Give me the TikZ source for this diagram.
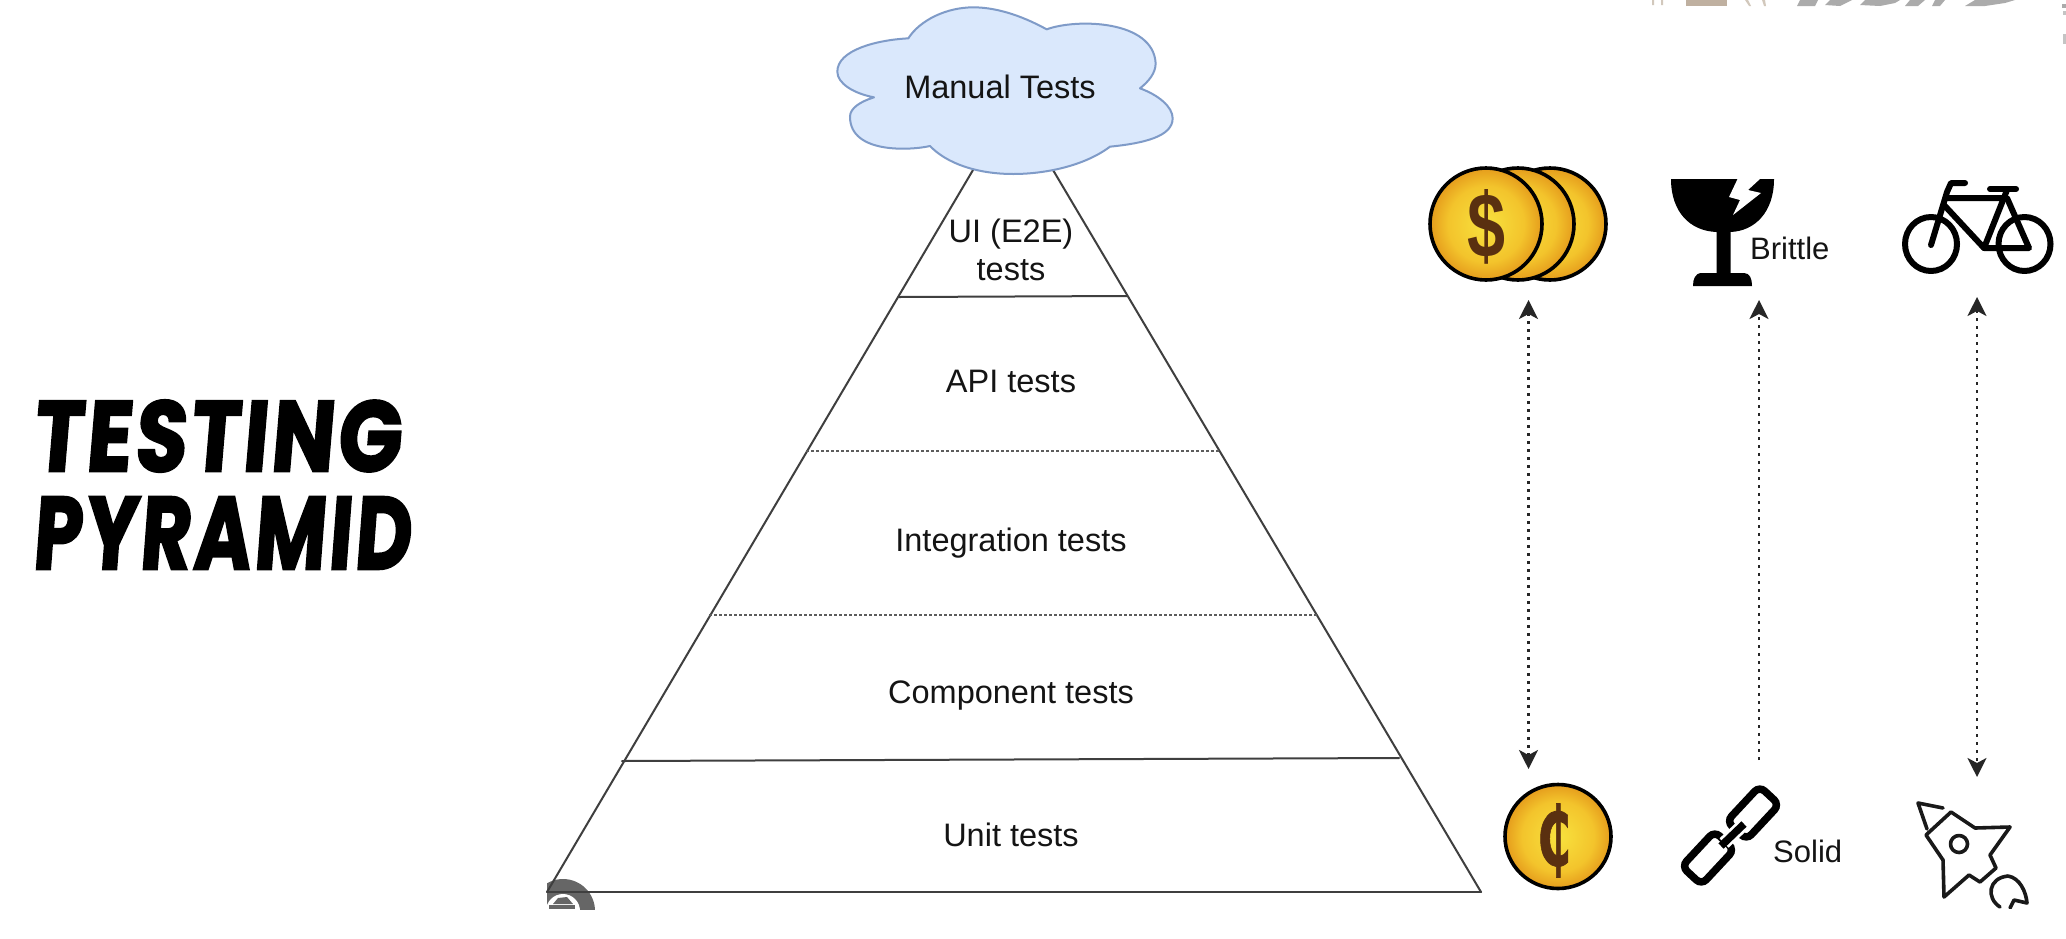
\documentclass[tikz,border=0pt]{standalone}
\usepackage{fontspec}
\usepackage{graphicx}
\usetikzlibrary{arrows.meta}
\setmainfont{Liberation Sans}
\newfontfamily\titlefont[BoldFeatures={FakeBold=2.5,FakeSlant=0.1,LetterSpace=4}]{Poppins}
\newfontfamily\glyphfont[BoldFeatures={FakeBold=1}]{DejaVu Sans}
\definecolor{pyr}{HTML}{3F3F3F}
\definecolor{cloudfill}{HTML}{DAE8FC}
\definecolor{cloudline}{HTML}{7F9BC8}
\definecolor{coinbrown}{HTML}{5A3010}
\definecolor{goldA}{HTML}{F8E23E}
\definecolor{goldB}{HTML}{F3C42C}
\definecolor{goldC}{HTML}{E59C1C}
\definecolor{goldD}{HTML}{F6D23A}
\definecolor{goldE}{HTML}{F0B428}
\definecolor{goldF}{HTML}{E2931A}
\definecolor{wm}{HTML}{ABABAB}
\definecolor{wmtan}{HTML}{BFB0A0}
\definecolor{badge}{HTML}{666666}
\pgfdeclareradialshading{goldcoin}{\pgfpointorigin}{%
  color(0bp)=(goldA); color(17bp)=(goldB); color(25bp)=(goldC);
  color(29bp)=(goldD); color(32bp)=(goldE); color(35.4bp)=(goldF); color(50bp)=(goldF)}
\tikzset{
  x=1pt,y=-1pt,
  edgeline/.style={draw=pyr,line width=2pt,line cap=round},
  tierdash/.style={draw=pyr!85,line width=1.3pt,dash pattern=on 2.5pt off 2.5pt},
  label/.style={font=\fontsize{32.5}{38}\selectfont,text=black!92,inner sep=0pt,align=center},
  dotarrow/.style={draw=black!85,line width=2.6pt,dash pattern=on 2.6pt off 5.4pt},
  coin/.style={draw=black,line width=3.6pt,shading=goldcoin},
  iconline/.style={draw=black,line width=6pt,line join=round,line cap=round},
  thinicon/.style={draw=black!90,line width=3.6pt,line join=round,line cap=round},
  linkbox/.style={draw=black,line width=7.5pt,rounded corners=7pt},
  title/.style={inner sep=0pt,font=\titlefont\bfseries\fontsize{100}{100}\selectfont}
}
\begin{document}
\begin{tikzpicture}[>={Stealth[length=19pt,width=19pt,inset=5pt]}]
\useasboundingbox (0,0) rectangle (2066,938);
\fill[white] (0,0) rectangle (2066,938);

% title
\node[title] (t1) at (216,436) {\resizebox{368pt}{71pt}{TESTING}};
\node[title] (t2) at (221,533) {\resizebox{378pt}{72pt}{PYRAMID}};

% badge fragment bottom left
\begin{scope}
\clip (547,870) rectangle (600,909);
\fill[badge] (563,911) circle (32);
\fill[white] (563,911) circle (17);
\fill[badge] (558,898) -- (567,897) -- (573,904) -- (553,904) -- cycle;
\fill[badge] (549,905) rectangle (575,909);
\end{scope}

% pyramid
\coordinate (la) at (547,892);
\coordinate (lb) at (973,170);
\coordinate (ra) at (1481,892);
\coordinate (rb) at (1053,170);
\draw[edgeline] (la) -- (lb);
\draw[edgeline] (ra) -- (rb);
\coordinate (a1) at (899,297); \coordinate (b1) at (1127,296);
\coordinate (a2) at (806,451); \coordinate (b2) at (1220,451);
\coordinate (a3) at (709,615); \coordinate (b3) at (1318,615);
\coordinate (a4) at (622,761); \coordinate (b4) at (1399,758);
\draw[edgeline] (a1) -- (b1);
\draw[tierdash] (a2) -- (b2);
\draw[tierdash] (a3) -- (b3);
\draw[edgeline] (a4) -- (b4);
\draw[edgeline] (la) -- (ra);

% cloud
\begin{scope}[x=0.33333pt,y=-0.33333pt,shift={(2400,0)}]
\draw[fill=cloudfill,draw=cloudline,line width=2pt,line join=round]
 (325,115) .. controls (360,60) and (440,22) .. (520,22)
 .. controls (600,22) and (680,55) .. (740,88)
 .. controls (830,55) and (1060,60) .. (1067,190)
 .. controls (1067,220) and (1045,245) .. (1020,265)
 .. controls (1075,285) and (1118,320) .. (1118,355)
 .. controls (1118,410) and (1030,430) .. (930,440)
 .. controls (850,500) and (730,522) .. (640,522)
 .. controls (530,522) and (440,490) .. (390,438)
 .. controls (340,450) and (150,465) .. (150,350)
 .. controls (150,325) and (180,305) .. (222,292)
 .. controls (160,280) and (112,250) .. (112,215)
 .. controls (112,150) and (230,120) .. (325,115) -- cycle;
\end{scope}

% labels
\node[label] (manual) at (1000,87) {Manual Tests};
\node[label] (ui) at (1011,250) {UI (E2E)\\tests};
\node[label] (api) at (1011,381) {API tests};
\node[label] (int) at (1011,543) {Integration tests};
\node[label] (comp) at (1011,696) {Component tests};
\node[label] (unit) at (1011,835) {Unit tests};
\node[label,anchor=base west,font=\fontsize{31}{37}\selectfont] (brittle) at (1750,259) {Brittle};
\node[label,anchor=base west,font=\fontsize{31}{37}\selectfont] (solid) at (1773,862) {Solid};

% coins
\path[coin] (1550,224) circle (56);
\path[coin] (1518,224) circle (56);
\path[coin] (1486,224) circle (56);
\node[inner sep=0pt,text=coinbrown,font=\bfseries] (dollar) at (1486,226.5) {\resizebox{38pt}{68pt}{\$}};
\path[coin] (1558,836.5) ellipse [x radius=53,y radius=52];
\node[inner sep=0pt,text=coinbrown] (cent) at (1554,840.5) {\resizebox{34pt}{62pt}{\glyphfont\bfseries\symbol{"20B5}}};

% broken glass
\fill[black] (1671,179) -- (1774,179) .. controls (1774,212) and (1755,231) .. (1730.5,232)
 -- (1730.5,273) -- (1744,273) .. controls (1750,273) and (1752,279) .. (1752,286)
 -- (1693,286) .. controls (1693,279) and (1695,273) .. (1702,273) -- (1716.5,273)
 -- (1716.5,232) .. controls (1690,231) and (1671,212) .. (1671,179) -- cycle;
\fill[white] (1738,178) -- (1729,197) -- (1740,200) -- (1733,215)
 -- (1761,193) -- (1748,190) -- (1761,178) -- cycle;

% bicycle
\draw[iconline] (1931,244) ellipse [x radius=26,y radius=27];
\draw[iconline] (2024.5,244) ellipse [x radius=26,y radius=27];
\draw[iconline] (1965,183) -- (1951,183) -- (1947,192) -- (1931,245);
\draw[iconline] (1946,198) -- (2007,198) -- (2029,248) -- (1984,248) -- (1944,205);
\draw[iconline] (2007,190) -- (1984,248);
\draw[iconline] (1990,189) -- (2016,189);

% chain link
\draw[linkbox,rotate around={47:(1753,813)}] (1729,799.5) rectangle (1777,826.5);
\draw[linkbox,rotate around={47:(1708,858)}] (1684,844.5) rectangle (1732,871.5);
\draw[white,line width=13pt] (1724,843) -- (1741,827);
\draw[black,line width=7.5pt] (1721,846) -- (1744,824);

% rocket
\draw[thinicon] (1951,812) -- (1975,828) -- (2010,827) -- (1990,855) -- (1996,868)
  -- (1980,882) -- (1969,875) -- (1944,897) -- (1943,860) -- (1926,835) -- cycle;
\draw[thinicon] (1943,808) -- (1918,803) -- (1927,829);
\draw[thinicon] (1959,844) circle (8.5);
\begin{scope}
\clip (1980,860) rectangle (2040,908);
\draw[thinicon] (2000,907) .. controls (1986,898) and (1988,878) .. (2008,876)
  .. controls (2020,878) and (2026,892) .. (2027,903) -- (2014,900) -- (2010,908);
\end{scope}

% arrows
\coordinate (c1) at (1528.5,300); \coordinate (c2) at (1528.5,769);
\draw[dotarrow,<->] (c1) -- (c2);
\coordinate (d1) at (1759,760); \coordinate (d2) at (1759,300);
\draw[dotarrow,->] (d1) -- (d2);
\coordinate (e1) at (1977,297); \coordinate (e2) at (1977,777);
\draw[dotarrow,<->] (e1) -- (e2);

% clipped watermark fragments
\fill[wmtan] (1686,0) rectangle (1727,6);
\fill[wmtan!70] (1652,0) rectangle (1654,5) (1661,0) rectangle (1663,5);
\fill[wmtan!70] (1745,0) -- (1749,6) -- (1751,6) -- (1748,0) -- cycle (1762,0) -- (1764,6) -- (1766,6) -- (1765,0) -- cycle;
\fill[wm] (1800,0) -- (1797,6) -- (1815,6) -- (1818,0) -- cycle;
\fill[wm] (1830,0) -- (1825,5) -- (1840,6) -- (1852,0) -- cycle;
\fill[wm] (1865,0) -- (1860,5) -- (1880,6) -- (1895,3) -- (1900,0) -- cycle;
\fill[wm] (1910,0) -- (1905,6) -- (1918,6) -- (1925,0) -- cycle;
\fill[wm] (1935,0) -- (1932,6) -- (1940,6) -- (1945,0) -- cycle;
\fill[wm] (1975,0) -- (1965,6) -- (1985,6) -- (2005,3) -- (2015,0) -- cycle;
\fill[wm] (2062,4) rectangle (2066,8);
\fill[wm!70] (2063,11) rectangle (2066,15);
\fill[wm!70] (2063,34) rectangle (2066,44);
\end{tikzpicture}
\end{document}
